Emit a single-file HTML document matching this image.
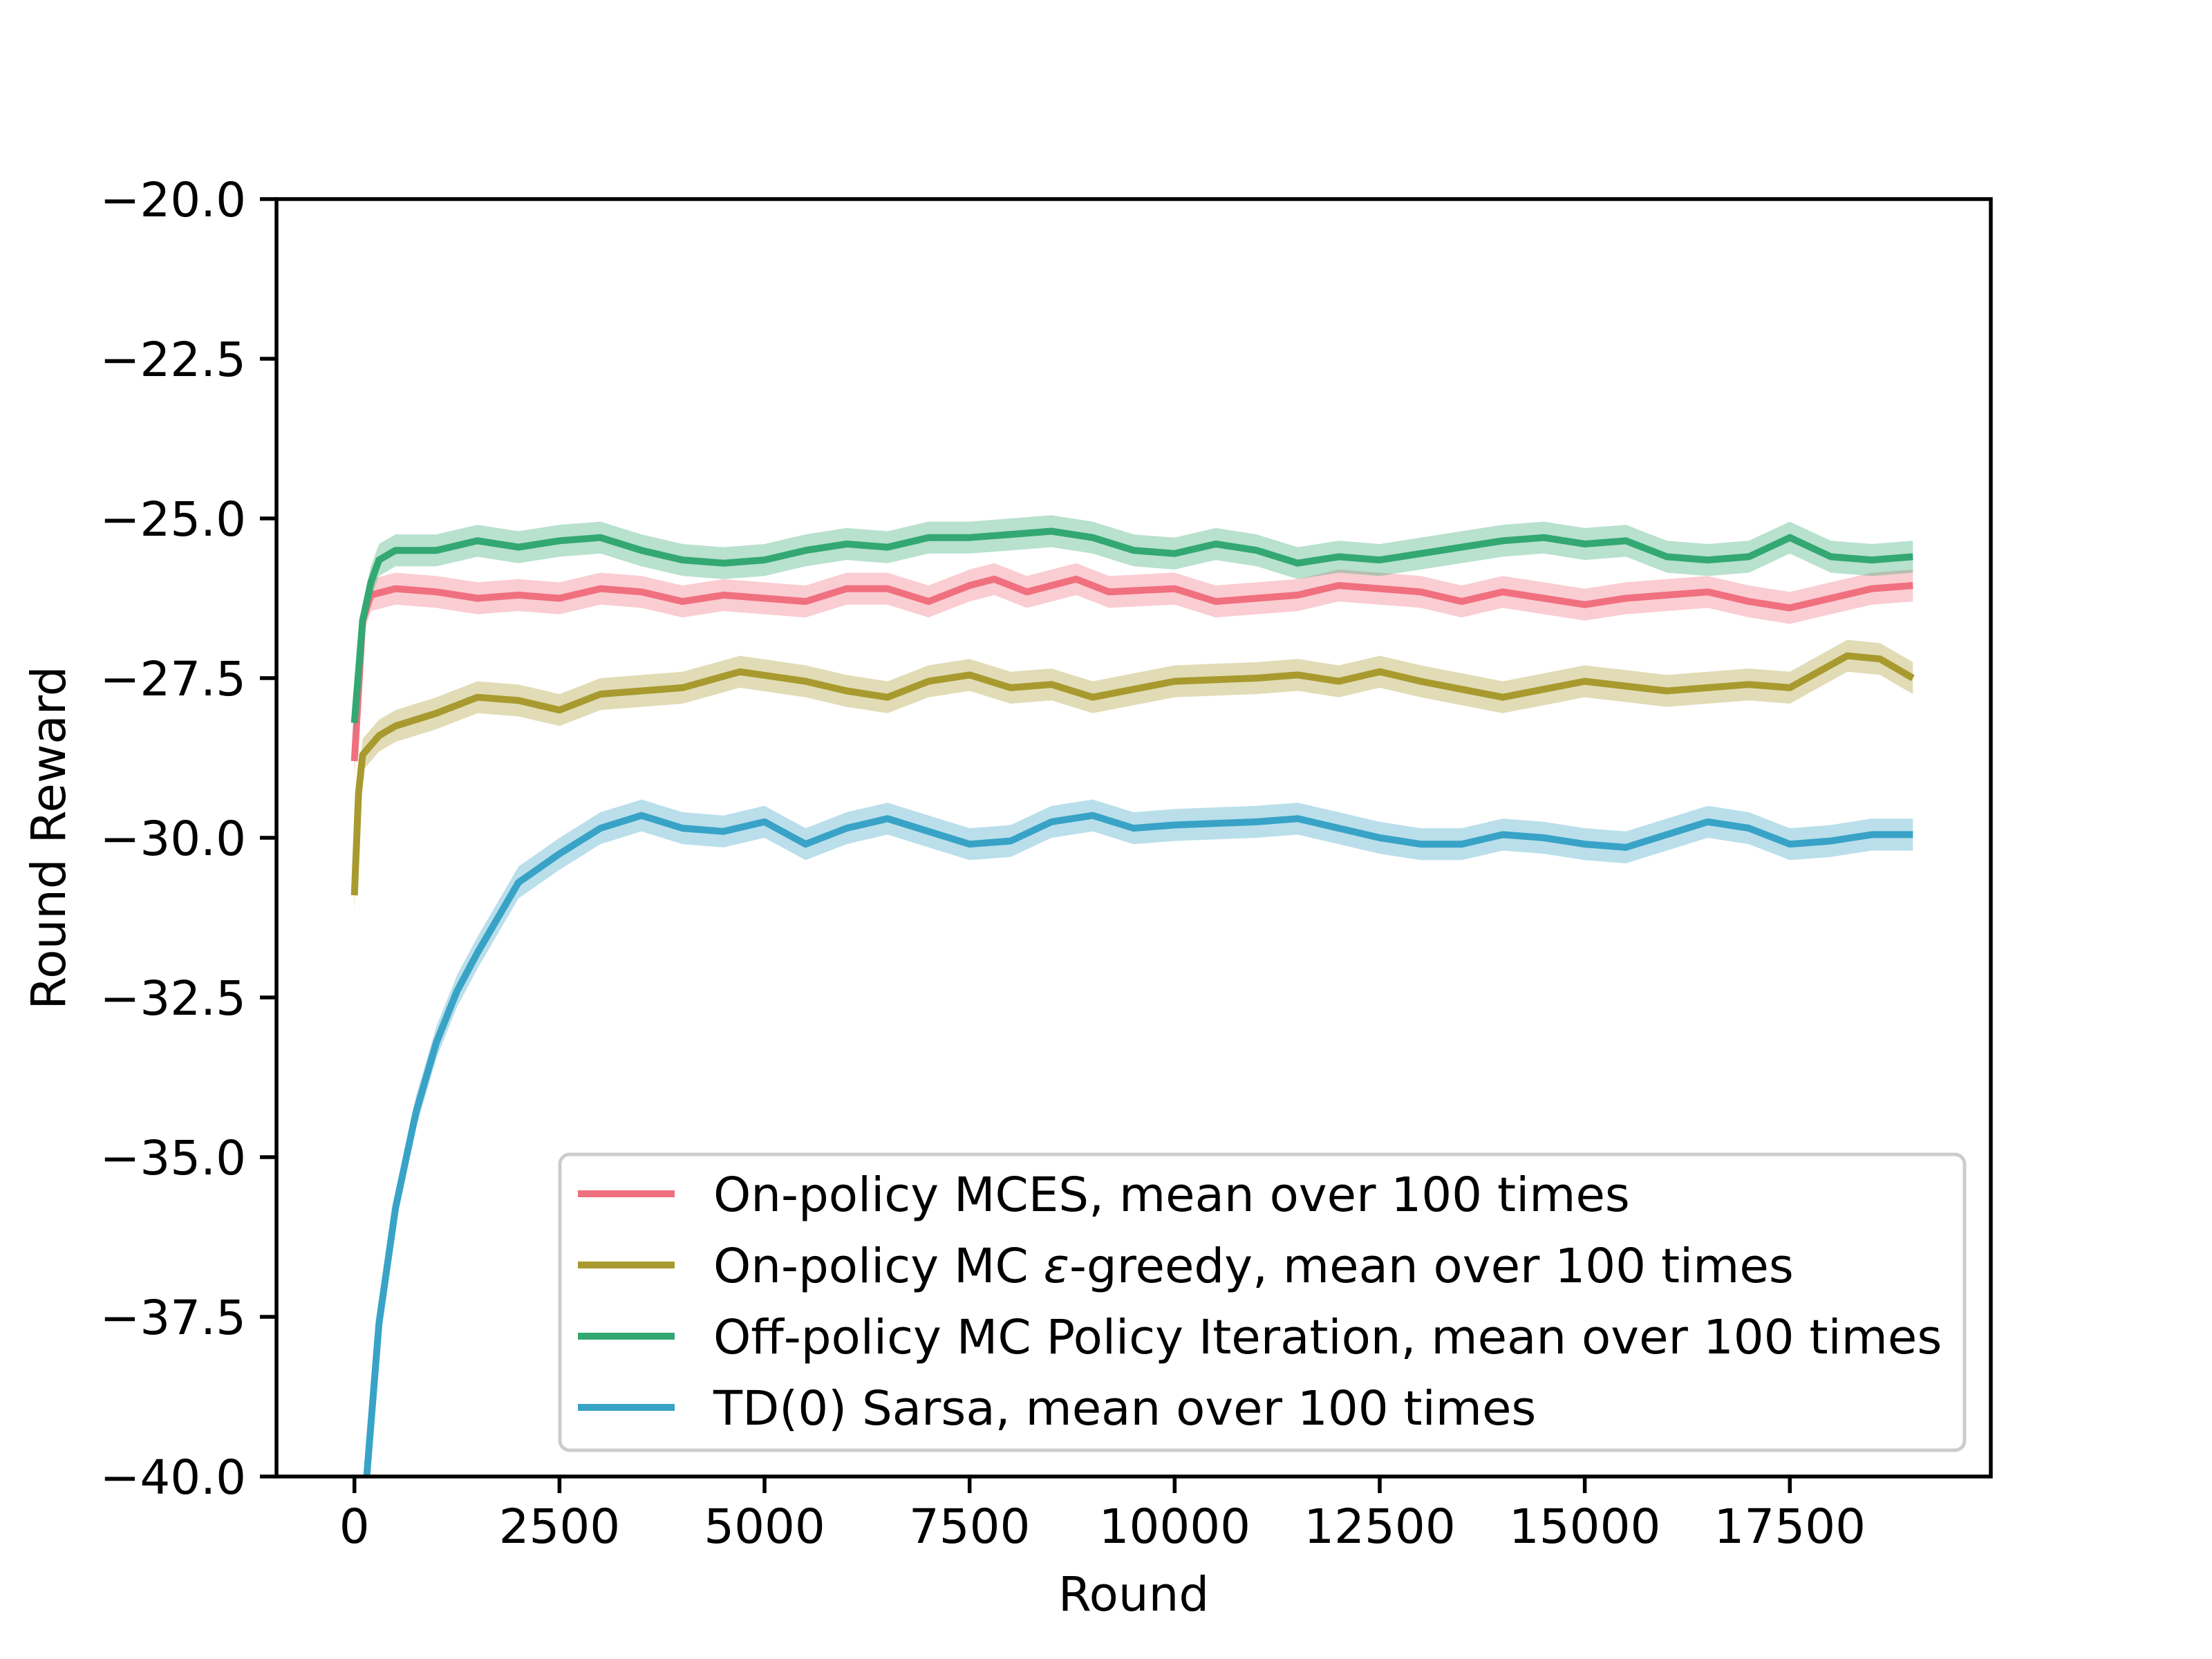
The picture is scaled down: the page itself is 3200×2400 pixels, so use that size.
<!DOCTYPE html>
<html><head><meta charset="utf-8">
<style>
html,body{margin:0;padding:0;background:#fff;width:3200px;height:2400px;overflow:hidden;}
svg{display:block;font-family:"DejaVu Sans","Liberation Sans",sans-serif;}
</style></head>
<body>
<svg id="chart" width="3200" height="2400" viewBox="0 0 3200 2400" xmlns="http://www.w3.org/2000/svg">
<rect width="3200" height="2400" fill="#fff"/>
<defs><clipPath id="plotclip"><rect x="400" y="288" width="2480" height="1848"/></clipPath></defs>
<g id="plot" clip-path="url(#plotclip)"></g>
<g id="axes"></g>
<text x="1640" y="2330" font-size="69" text-anchor="middle">Round</text>
<text x="0" y="0" font-size="69" text-anchor="middle" transform="translate(94,1212) rotate(-90)">Round Reward</text>
<g id="legend"></g>
</svg>
<script>
const xTicks=[0,2500,5000,7500,10000,12500,15000,17500];
const yTicks=[-20,-22.5,-25,-27.5,-30,-32.5,-35,-37.5,-40];
const seriesNames=["On-policy MCES, mean over 100 times","On-policy MC |\u03b5|-greedy, mean over 100 times","Off-policy MC Policy Iteration, mean over 100 times","TD(0) Sarsa, mean over 100 times"];
const seriesColors=["#f0707f","#a89a2e","#33a872","#38a3c6"];
const mcesX=[0,100,200,500,1000,1500,2000,2500,3000,3500,4000,4500,5000,5500,6000,6500,7000,7500,7800,8200,8800,9200,10000,10500,11000,11500,12000,12500,13000,13500,14000,14500,15000,15500,16000,16500,17000,17500,18000,18500,19000];
const mcesY=[-28.8,-26.6,-26.2,-26.1,-26.15,-26.25,-26.2,-26.25,-26.1,-26.15,-26.3,-26.2,-26.25,-26.3,-26.1,-26.1,-26.3,-26.05,-25.95,-26.15,-25.95,-26.15,-26.1,-26.3,-26.25,-26.2,-26.05,-26.1,-26.15,-26.3,-26.15,-26.25,-26.35,-26.25,-26.2,-26.15,-26.3,-26.4,-26.25,-26.1,-26.05];
const egrX=[0,50,100,300,500,1000,1500,2000,2500,3000,3500,4000,4700,5500,6000,6500,7000,7500,8000,8500,9000,10000,11000,11500,12000,12500,13000,14000,15000,16000,17000,17500,18200,18600,19000];
const egrY=[-30.9,-29.3,-28.7,-28.4,-28.25,-28.05,-27.8,-27.85,-28.0,-27.75,-27.7,-27.65,-27.4,-27.55,-27.7,-27.8,-27.55,-27.45,-27.65,-27.6,-27.8,-27.55,-27.5,-27.45,-27.55,-27.4,-27.55,-27.8,-27.55,-27.7,-27.6,-27.65,-27.15,-27.2,-27.5];
const offX=[0,100,200,300,500,1000,1500,2000,2500,3000,3500,4000,4500,5000,5500,6000,6500,7000,7500,8000,8500,9000,9500,10000,10500,11000,11500,12000,12500,13000,14000,14500,15000,15500,16000,16500,17000,17500,18000,18500,19000];
const offY=[-28.2,-26.6,-26.0,-25.65,-25.5,-25.5,-25.35,-25.45,-25.35,-25.3,-25.5,-25.65,-25.7,-25.65,-25.5,-25.4,-25.45,-25.3,-25.3,-25.25,-25.2,-25.3,-25.5,-25.55,-25.4,-25.5,-25.7,-25.6,-25.65,-25.55,-25.35,-25.3,-25.4,-25.35,-25.6,-25.65,-25.6,-25.3,-25.6,-25.65,-25.6];
const sarX=[0,150,300,500,750,1000,1250,1500,2000,2500,3000,3500,4000,4500,5000,5500,6000,6500,7000,7500,8000,8500,9000,9500,10000,11000,11500,12000,12500,13000,13500,14000,14500,15000,15500,16000,16500,17000,17500,18000,18500,19000];
const sarY=[-47,-40,-37.6,-35.8,-34.3,-33.2,-32.4,-31.8,-30.7,-30.25,-29.85,-29.65,-29.85,-29.9,-29.75,-30.1,-29.85,-29.7,-29.9,-30.1,-30.05,-29.75,-29.65,-29.85,-29.8,-29.75,-29.7,-29.85,-30.0,-30.1,-30.1,-29.95,-30.0,-30.1,-30.15,-29.95,-29.75,-29.85,-30.1,-30.05,-29.95,-29.95];
const seriesX=[mcesX,egrX,offX,sarX];
const seriesY=[mcesY,egrY,offY,sarY];
const bandHalf=[0.25,0.25,0.25,0.25];

const L=400,R=2880,T=288,B=2136,X0=-950,X1=19950,Y0=-40,Y1=-20;
const sx=v=>L+(v-X0)/(X1-X0)*(R-L);
const sy=v=>B-(v-Y0)/(Y1-Y0)*(B-T);
const NS="http://www.w3.org/2000/svg";
function mk(tag,attrs,parent){const e=document.createElementNS(NS,tag);for(const k in attrs)e.setAttribute(k,attrs[k]);parent.appendChild(e);return e;}
const plot=document.getElementById('plot'),axes=document.getElementById('axes'),leg=document.getElementById('legend');

for(let s=0;s<4;s++){
  const xs=seriesX[s],ys=seriesY[s],h=bandHalf[s];
  let up=xs.map((x,i)=>sx(x).toFixed(1)+','+sy(ys[i]+h).toFixed(1));
  let dn=xs.map((x,i)=>sx(x).toFixed(1)+','+sy(ys[i]-h).toFixed(1)).reverse();
  const band=mk('polygon',{points:up.concat(dn).join(' '),fill:seriesColors[s],'fill-opacity':0.35,stroke:'none'},plot);
  
  
  const line=mk('polyline',{points:xs.map((x,i)=>sx(x).toFixed(1)+','+sy(ys[i]).toFixed(1)).join(' '),fill:'none',stroke:seriesColors[s],'stroke-width':10,'stroke-linejoin':'round'},plot);
  
  
}

const frame=mk('rect',{x:L,y:T,width:R-L,height:B-T,fill:'none',stroke:'#000','stroke-width':5.5},axes);


xTicks.forEach(v=>{
  const x=sx(v);
  const t=mk('line',{x1:x,x2:x,y1:B,y2:B+24,stroke:'#000','stroke-width':5.5},axes);
  
  
  const lb=mk('text',{x:x,y:B+96,'font-size':69,'text-anchor':'middle'},axes);
  lb.textContent=String(v);
  
  
});
yTicks.forEach(v=>{
  const y=sy(v);
  const t=mk('line',{x1:L-24,x2:L,y1:y,y2:y,stroke:'#000','stroke-width':5.5},axes);
  
  
  const lb=mk('text',{x:L-44,y:y+25,'font-size':69,'text-anchor':'end'},axes);
  lb.textContent='\u2212'+Math.abs(v).toFixed(1);
  
  
});

const box=mk('rect',{x:810,y:1670,width:2032,height:428,rx:14,fill:'#fff','fill-opacity':0.8,stroke:'#ccc','stroke-width':5},leg);


const rowY=[1727,1830,1933,2036];
seriesNames.forEach((n,i)=>{
  const ln=mk('line',{x1:836,x2:976,y1:rowY[i],y2:rowY[i],stroke:seriesColors[i],'stroke-width':10},leg);
  
  
  const tx=mk('text',{x:1032,y:rowY[i]+25,'font-size':69},leg);
  const parts=n.split('|');
  parts.forEach((p,j)=>{
    const sp=mk('tspan',j===1?{'font-style':'italic'}:{},tx);
    sp.textContent=p;
  });
  
  
});
</script>
</body></html>
